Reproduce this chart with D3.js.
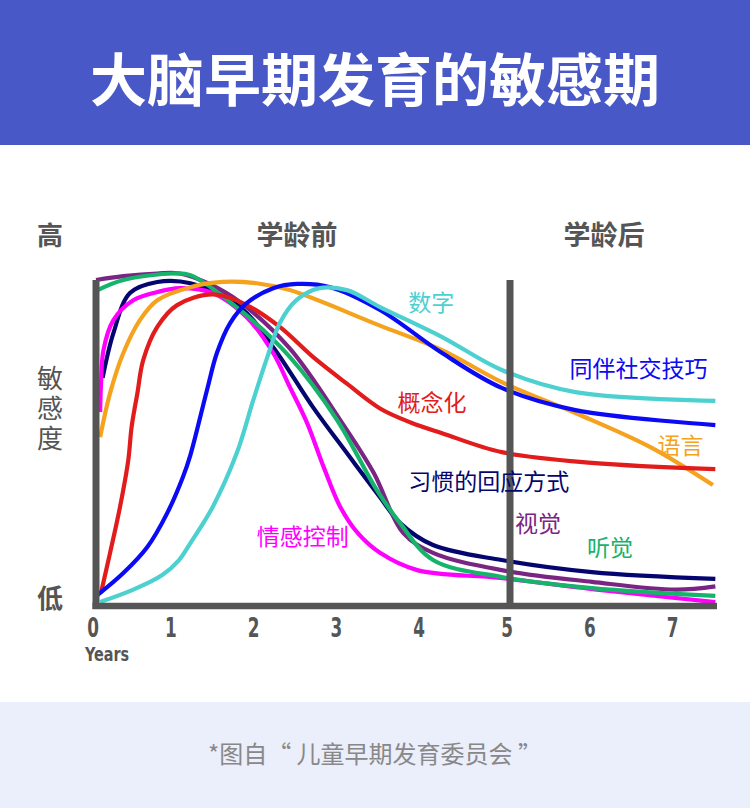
<!DOCTYPE html>
<html>
<head>
<meta charset="utf-8">
<script src="https://cdn.jsdelivr.net/npm/d3@7/dist/d3.min.js"></script>
<style>
  html, body { margin: 0; padding: 0; background: #fff; }
  svg { display: block; }
</style>
</head>
<body>
<script>
// ---- data (x: years, y: sensitivity 0-100) ----
const xTicks = [0, 1, 2, 3, 4, 5, 6, 7];
const seriesNames = ["习惯的回应方式", "情感控制", "视觉", "听觉", "语言", "概念化", "同伴社交技巧", "数字"];

const habit = [[0.08,70],[0.21,83.7],[0.41,96],[0.74,99.4],[1.14,99],[1.74,91.7],[2.14,79.4],[2.62,61],[3.03,46.9],[3.43,33.4],[3.67,25.5],[4.07,18.7],[4.90,14.1],[5.99,10.4],[7.48,8.3]];
const emotion = [[0.05,59.5],[0.06,68],[0.09,78.5],[0.21,87.7],[0.45,93.8],[0.74,96.3],[1.01,97.5],[1.41,96],[1.82,88.6],[2.14,77.6],[2.34,67.2],[2.55,56.1],[2.75,42.6],[2.95,30.4],[3.16,22.4],[3.43,16.3],[3.88,11],[4.88,8.6],[5.99,5.2],[7.48,1.2]];
const vision = [[0,100],[0.33,101.2],[0.74,102],[1.01,102],[1.35,99],[1.74,93.2],[2.34,79],[2.95,57],[3.35,41],[3.71,22.4],[4.07,16.3],[4.90,11],[5.99,7.4],[7.0,5.0],[7.48,6]];
const hearing = [[0.02,96.9],[0.33,100],[0.93,102],[1.14,101.5],[1.74,90.8],[2.34,76.4],[2.91,57.1],[3.39,35.6],[3.67,25.5],[4.07,14.1],[4.90,8.9],[5.99,5.5],[7.48,3.1]];
const language = [[0.05,51.8],[0.17,65.3],[0.33,77.6],[0.53,87.7],[0.74,93.8],[1.14,97.8],[1.53,99.4],[1.94,99],[2.34,96.9],[3.43,86],[4.18,78.5],[4.90,68.7],[5.79,59.2],[6.69,48.8],[7.45,37.1]];
const concept = [[0.06,4],[0.17,16.3],[0.29,30.4],[0.39,44.8],[0.43,54.9],[0.50,65.3],[0.57,75.4],[0.74,85.6],[0.98,92.3],[1.41,95.6],[1.82,92.3],[2.22,85.6],[2.62,76.4],[3.03,68.2],[3.43,60.6],[3.80,56.3],[4.18,53],[4.90,47.2],[5.99,43.9],[7.48,42]];
const peer = [[0.02,3.4],[0.33,10.1],[0.62,18.1],[0.86,28.5],[1.05,39.6],[1.14,46.3],[1.34,66.2],[1.46,77.6],[1.62,86.8],[1.82,92.9],[2.14,97.5],[2.43,98.8],[2.83,97.8],[3.43,90.8],[4.18,77.6],[4.90,66.9],[5.79,60.1],[7.48,55.5]];
const numbers = [[0.05,1.2],[0.45,5],[0.80,9.5],[1.00,14],[1.14,19.3],[1.41,30.4],[1.70,46.9],[1.90,63.2],[2.07,76.4],[2.22,86.8],[2.42,93.8],[2.70,97.5],[3.03,96.9],[3.43,91.7],[4.18,82.5],[4.90,72.4],[5.79,65.6],[7.48,62.9]];

// label anchors in data units (start of text, vertical middle)
const labelAnchors = [[3.77,38.6],[1.94,21.8],[5.06,25.8],[5.93,18.4],[6.78,49.7],[3.64,62.9],[5.72,73.3],[3.77,93.5]];

const colors = ["#05056f", "#ff00ff", "#7a2483", "#16b36b", "#f5a31e", "#e21c1c", "#0a0af5", "#4dd0d0"];
const seriesValues = [habit, emotion, vision, hearing, language, concept, peer, numbers];

// ---- layout ----
const W = 750, H = 808;
const svg = d3.select("body").append("svg").attr("width", W).attr("height", H);
const cjk = "'Noto Sans CJK SC', 'Noto Sans', sans-serif";
const grey = "#555555";

// header
svg.append("rect").attr("x", 0).attr("y", 0).attr("width", W).attr("height", 145).attr("fill", "#4858c6");
svg.append("text").attr("x", W / 2).attr("y", 76)
  .attr("text-anchor", "middle").attr("dominant-baseline", "central")
  .attr("font-family", cjk).attr("font-weight", 700).attr("font-size", 57)
  .attr("fill", "#fff").text("大脑早期发育的敏感期");

// footer
svg.append("rect").attr("x", 0).attr("y", 702).attr("width", W).attr("height", H - 702).attr("fill", "#ebeefb");
svg.append("text").attr("x", W / 2).attr("y", 752)
  .attr("text-anchor", "middle").attr("dominant-baseline", "central")
  .attr("font-family", cjk).attr("font-size", 24).attr("fill", "#888")
  .text("*图自“ 儿童早期发育委员会 ”");

// scales
const x = d3.scaleLinear().domain([0, 7.5]).range([96, 717]);
const y = d3.scaleLinear().domain([0, 100]).range([606, 280]);

// curves
const line = d3.line().x(d => x(d[0])).y(d => y(d[1])).curve(d3.curveCatmullRom.alpha(0.5));
const g = svg.append("g");
seriesValues.forEach((vals, i) => {
  g.append("path").attr("d", line(vals)).attr("fill", "none")
    .attr("stroke", colors[i]).attr("stroke-width", 4.2)
    .attr("stroke-linecap", "butt").attr("stroke-linejoin", "round");
});

// axes
svg.append("line").attr("x1", x(0)).attr("x2", x(0)).attr("y1", y(100)).attr("y2", y(0) + 3)
  .attr("stroke", grey).attr("stroke-width", 7);
svg.append("line").attr("x1", x(0) - 3.5).attr("x2", x(7.5)).attr("y1", y(0)).attr("y2", y(0))
  .attr("stroke", grey).attr("stroke-width", 6.5);
svg.append("line").attr("x1", x(5)).attr("x2", x(5)).attr("y1", y(100)).attr("y2", y(0))
  .attr("stroke", grey).attr("stroke-width", 7);

// tick labels
const tickFont = "'DejaVu Sans Condensed', 'DejaVu Sans', sans-serif";
svg.append("g").selectAll("text").data(xTicks).join("text")
  .attr("transform", d => `translate(${x(d) - 3 - (d > 0 && d < 5 ? 5 : 0)},637) scale(0.72,1)`)
  .attr("text-anchor", "middle")
  .attr("font-family", tickFont).attr("font-weight", 700).attr("font-size", 26)
  .attr("fill", grey).text(d => d);
svg.append("text").attr("transform", `translate(${x(0) - 11},661) scale(0.8,1)`)
  .attr("font-family", tickFont).attr("font-weight", 700).attr("font-size", 20)
  .attr("fill", grey).text("Years");

// side / top labels
function label(t, px, py, size, weight) {
  return svg.append("text").attr("x", px).attr("y", py)
    .attr("text-anchor", "middle").attr("dominant-baseline", "central")
    .attr("font-family", cjk).attr("font-weight", weight).attr("font-size", size)
    .attr("fill", grey).text(t);
}
label("高", 50, 233, 26, 700);
label("学龄前", 297, 233, 27, 700);
label("学龄后", 604, 233, 27, 700);
svg.append("text").attr("x", 50).attr("y", 410)
  .attr("text-anchor", "middle")
  .attr("writing-mode", "vertical-rl")
  .attr("letter-spacing", 4)
  .attr("font-family", cjk).attr("font-size", 26)
  .attr("fill", grey).text("敏感度");
label("低", 50, 596, 26, 700);

// series labels
svg.append("g").selectAll("text").data(seriesNames).join("text")
  .attr("x", (d, i) => x(labelAnchors[i][0]))
  .attr("y", (d, i) => y(labelAnchors[i][1]))
  .attr("dominant-baseline", "central")
  .attr("font-family", cjk).attr("font-size", 23)
  .attr("fill", (d, i) => colors[i]).text(d => d);
</script>
</body>
</html>
